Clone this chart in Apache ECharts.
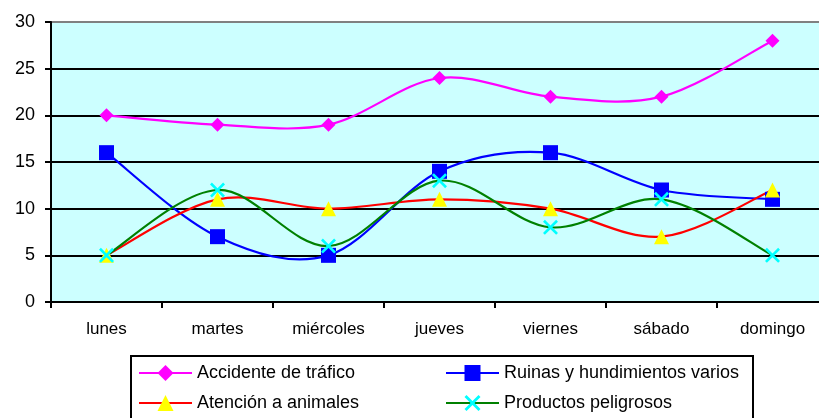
<!DOCTYPE html>
<html><head><meta charset="utf-8">
<script src="https://cdn.jsdelivr.net/npm/echarts@6/dist/echarts.min.js"></script>
<style>html,body{margin:0;padding:0;background:#fff;overflow:hidden}#c{width:832px;height:418px}</style>
</head><body><div id="c"></div>
<script>
const categories = ['lunes','martes','miércoles','jueves','viernes','sábado','domingo'];
const accidente = [20,19,19,24,22,22,28];
const ruinas = [16,7,5,14,16,12,11];
const atencion = [5,11,10,11,10,7,12];
const productos = [5,12,6,13,8,11,5];
const seriesNames = ['Accidente de tráfico','Ruinas y hundimientos varios','Atención a animales','Productos peligrosos'];
const yTicks = {min:0, max:30, interval:5};

const FONT = '"Liberation Sans", Arial, sans-serif';
const crossPath = 'path://M0,1.5L1.5,0L6,4.5L10.5,0L12,1.5L7.5,6L12,10.5L10.5,12L6,7.5L1.5,12L0,10.5L4.5,6Z';

const chart = echarts.init(document.getElementById('c'), null, {renderer:'canvas'});

// Excel-like smoothed curve drawn through the axis scales (api.coord)
function curve(name, values, color) {
  return {
    name: name + ' ', type:'custom', silent:true, z:1, clip:false,
    data: values.map((v, i) => [i, v]),
    encode:{x:0, y:1},
    renderItem: function (params, api) {
      const i = params.dataIndex;
      const n = values.length;
      if (i >= n - 1) return null;
      const P = k => api.coord([Math.max(0, Math.min(n - 1, k)), values[Math.max(0, Math.min(n - 1, k))]]);
      const p0 = P(i - 1), p1 = P(i), p2 = P(i + 1), p3 = P(i + 2);
      const t = 1 / 6;
      const c1 = [p1[0] + (p2[0] - p0[0]) * t, p1[1] + (p2[1] - p0[1]) * t];
      const c2 = [p2[0] - (p3[0] - p1[0]) * t, p2[1] - (p3[1] - p1[1]) * t];
      return {
        type:'bezierCurve',
        shape:{x1:p1[0], y1:p1[1], x2:p2[0], y2:p2[1], cpx1:c1[0], cpy1:c1[1], cpx2:c2[0], cpy2:c2[1]},
        style:{stroke:color, lineWidth:2.2, fill:null}
      };
    },
    animation:false
  };
}
function mk(name, data, lineColor, sym, symColor, size) {
  return {
    name, type:'line', data,
    symbol:sym, symbolSize:size, showAllSymbol:true, z:3,
    lineStyle:{color:lineColor, width:2, opacity:0},
    itemStyle:{color:symColor, borderWidth:0},
    emphasis:{disabled:true}, animation:false
  };
}
const lineColors = ['#FF00FF','#0000FF','#FF0000','#008000'];
chart.setOption({
  animation:false,
  textStyle:{fontFamily:FONT},
  grid:{left:51, top:22, width:777, height:280, show:true, backgroundColor:'#CCFFFF', borderWidth:0, containLabel:false},
  xAxis:{type:'category', data:categories, boundaryGap:true,
    axisLine:{lineStyle:{color:'#000', width:2}},
    axisTick:{show:true, length:6, lineStyle:{color:'#000', width:2}},
    axisLabel:{color:'#000', fontSize:17, fontFamily:FONT, margin:19},
    splitLine:{show:false}},
  yAxis:{type:'value', min:yTicks.min, max:yTicks.max, interval:yTicks.interval,
    axisLine:{show:true, lineStyle:{color:'#000', width:2}},
    axisTick:{show:true, length:6, lineStyle:{color:'#000', width:2}},
    axisLabel:{color:'#000', fontSize:18, fontFamily:FONT, margin:16},
    splitLine:{show:true, lineStyle:{color:['#000','#000','#000','#000','#000','#000','#808080'], width:2}}},
  legend:{
    left:131, top:356, width:610, orient:'horizontal',
    padding:[6,9,20,7], itemGap:8,
    itemWidth:53, itemHeight:20,
    borderColor:'#000', borderWidth:2, backgroundColor:'#fff',
    textStyle:{color:'#000', fontSize:18, fontFamily:FONT, width:240, lineHeight:22},
    data:seriesNames.map((n, i) => ({name:n, lineStyle:{color:lineColors[i], width:2, opacity:1}}))
  },
  series:[
    curve(seriesNames[0], accidente, lineColors[0]),
    curve(seriesNames[1], ruinas, lineColors[1]),
    curve(seriesNames[2], atencion, lineColors[2]),
    curve(seriesNames[3], productos, lineColors[3]),
    mk(seriesNames[0], accidente, lineColors[0], 'diamond', '#FF00FF', 14),
    mk(seriesNames[1], ruinas, lineColors[1], 'rect', '#0000FF', 15),
    mk(seriesNames[2], atencion, lineColors[2], 'triangle', '#FFFF00', 15),
    mk(seriesNames[3], productos, lineColors[3], crossPath, '#00FFFF', 15)
  ]
});
</script></body></html>
